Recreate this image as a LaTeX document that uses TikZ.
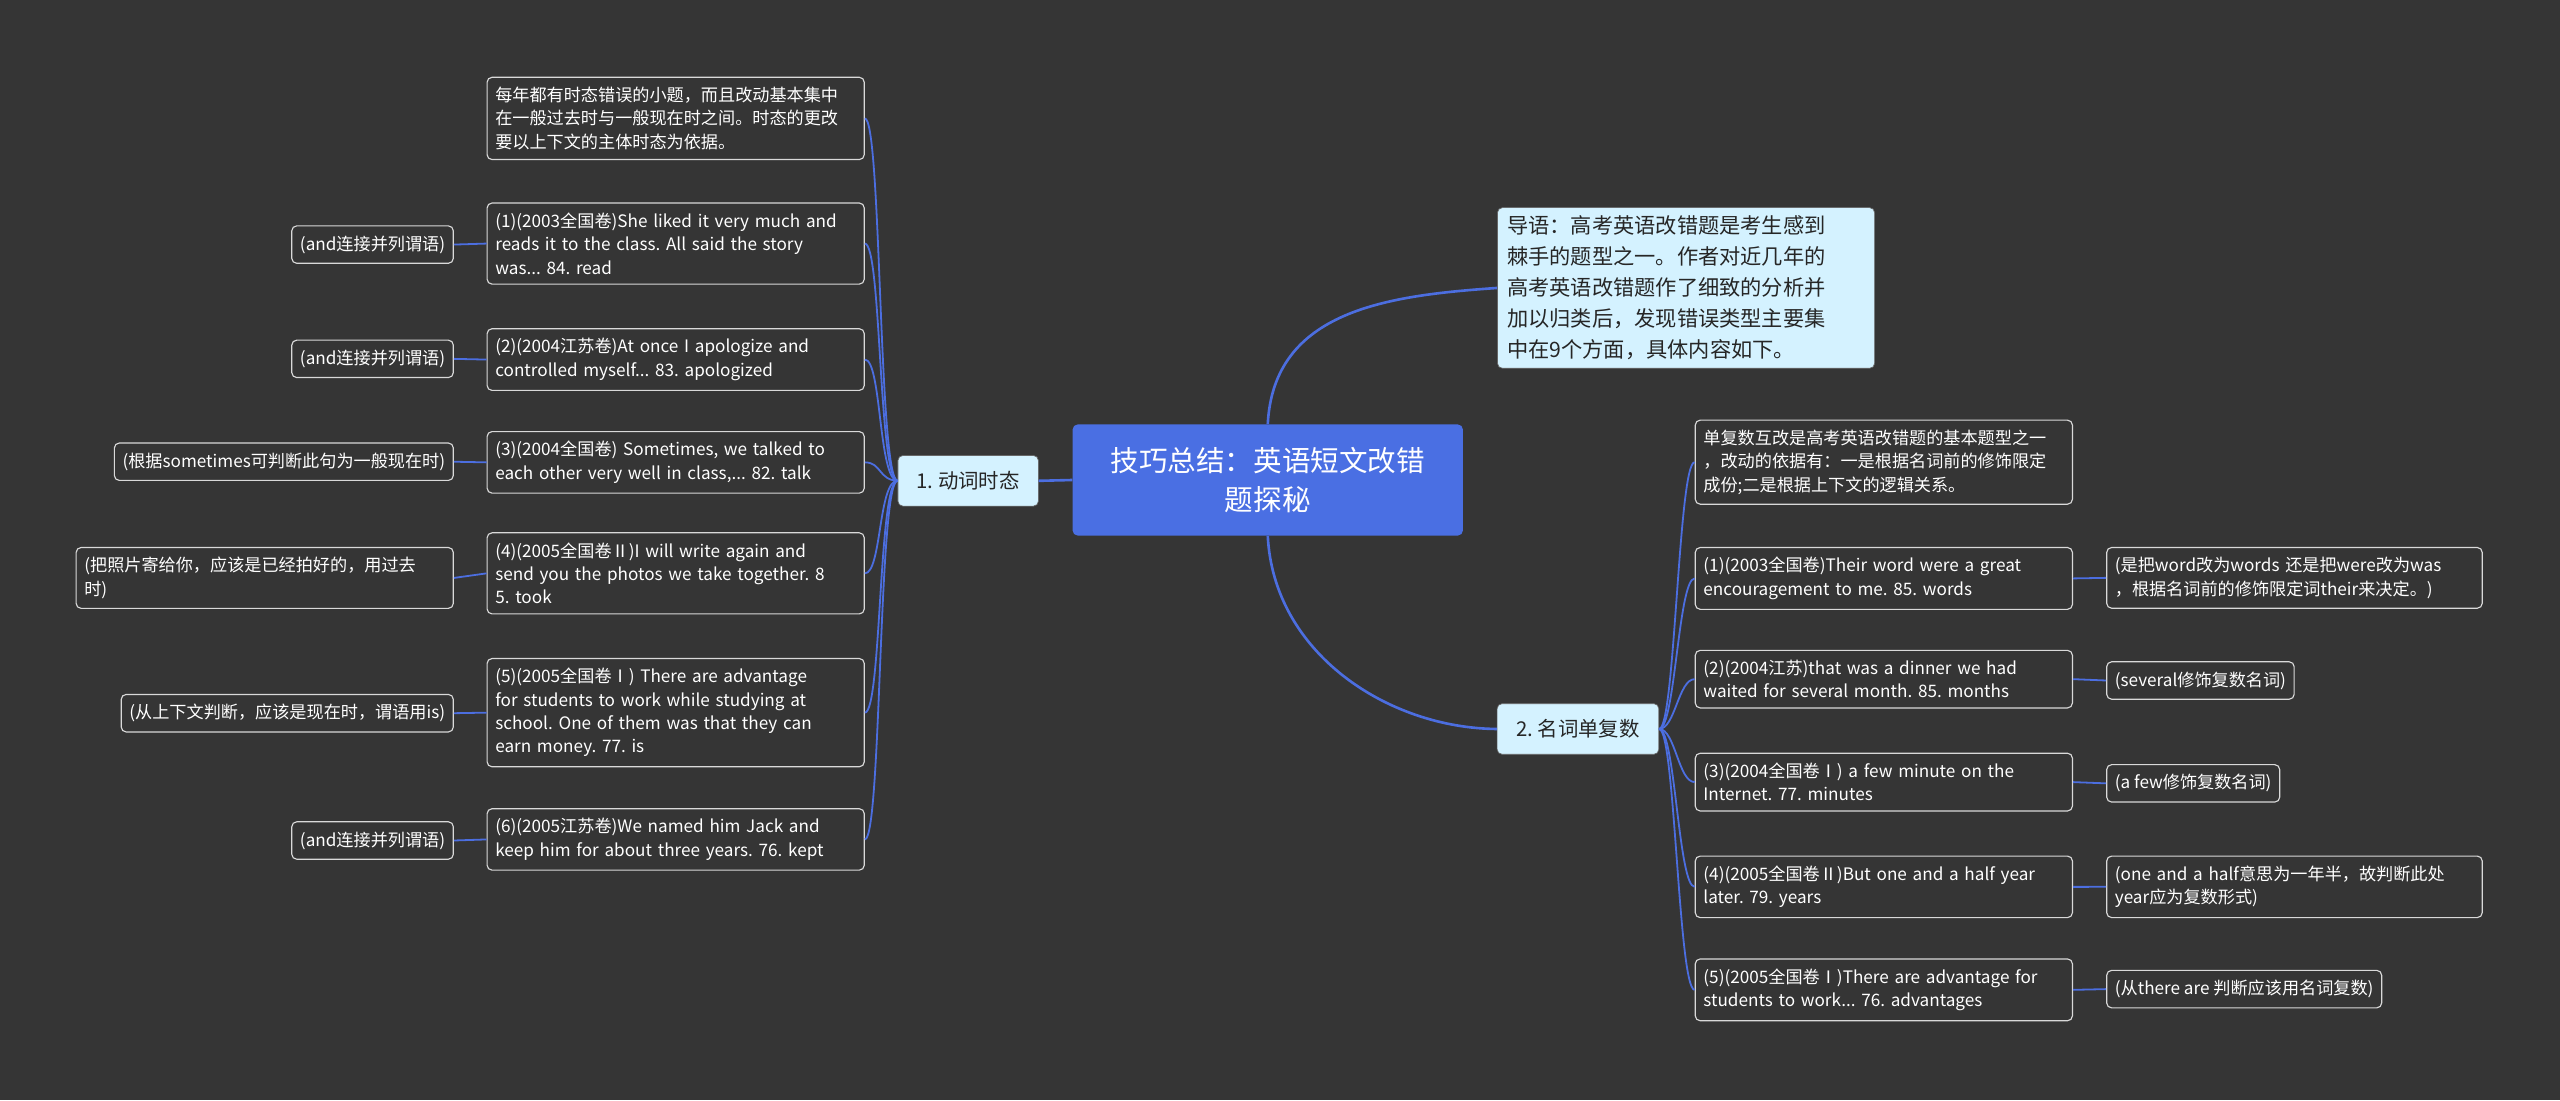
\documentclass[tikz,border=0pt]{standalone}
\usepackage{fontspec}
\setmainfont{Noto Sans CJK SC}
\frenchspacing
\definecolor{bg}{HTML}{353535}
\definecolor{ln}{HTML}{4C6EE0}
\definecolor{rootc}{HTML}{4A6FE3}
\definecolor{lite}{HTML}{D4F2FF}
\begin{document}
\begin{tikzpicture}[x=1pt,y=-1pt,
 leaf/.style={draw=white!85!black,line width=0.7pt,fill=bg,text=white,rounded corners=3pt,anchor=north west,align=left,inner xsep=5pt,inner ysep=6pt,font=\fontsize{10.5}{14.3}\selectfont},
 lit/.style={draw=black!60,fill=lite,text=black!85,rounded corners=3pt,align=left,inner xsep=6pt,inner ysep=5pt},
 con/.style={draw=ln,line width=1.6pt},
 tcon/.style={draw=ln,line width=1.1pt}]
\fill[bg] (0,0) rectangle (1568,674);
\useasboundingbox (0,0) rectangle (1568,674);
\node[fill=rootc,text=white,rounded corners=3pt,minimum width=239pt,minimum height=68pt,align=center,font=\fontsize{17.5}{24}\selectfont] (root) at (776.5,294) {技巧总结：英语短文改错\\题探秘};
\node[lit,anchor=north west,text width=219pt,font=\fontsize{13}{19}\selectfont] (intro) at (917,127) {导语：高考英语改错题是考生感到\\棘手的题型之一。作者对近几年的\\高考英语改错题作了细致的分析并\\加以归类后，发现错误类型主要集\\中在9个方面，具体内容如下。};
\node[lit,minimum width=86pt,minimum height=31pt,font=\fontsize{12.5}{15}\selectfont] (b1) at (593,294.5) {1. 动词时态};
\node[lit,minimum width=99pt,minimum height=31pt,font=\fontsize{12.5}{15}\selectfont] (b2) at (966.5,446.5) {2. 名词单复数};
\draw[con] (root.north) .. controls (780,190) and (850,181) .. (intro.west);
\draw[con] (root.south) .. controls (780,400) and (850,446) .. (b2.west);
\draw[con] (root.west) -- (b1.east);
% left leaves
\node[leaf,text width=221pt] (l0) at (298,47) {每年都有时态错误的小题，而且改动基本集中\\在一般过去时与一般现在时之间。时态的更改\\要以上下文的主体时态为依据。};
\node[leaf,text width=221pt] (l1) at (298,124) {(1)(2003全国卷)She liked it very much and\\ reads it to the class. All said the story\\was... 84. read};
\node[leaf,text width=221pt] (l2) at (298,201) {(2)(2004江苏卷)At once I apologize and\\controlled myself... 83. apologized};
\node[leaf,text width=221pt] (l3) at (298,264) {(3)(2004全国卷) Sometimes, we talked to\\each other very well in class,... 82. talk};
\node[leaf,text width=221pt] (l4) at (298,326) {(4)(2005全国卷Ⅱ)I will write again and\\send you the photos we take together. 8\\5. took};
\node[leaf,text width=221pt] (l5) at (298,403) {(5)(2005全国卷Ⅰ) There are advantage\\for students to work while studying at\\school. One of them was that they can\\earn money. 77. is};
\node[leaf,text width=221pt] (l6) at (298,495) {(6)(2005江苏卷)We named him Jack and\\keep him for about three years. 76. kept};
\foreach \n in {l0,l1,l2,l3,l4,l5,l6}{\draw[tcon] (b1.west) .. controls (538,294) and (540,0|-\n.east) .. (\n.east);}
% left notes
\node[leaf,anchor=north east] (n1) at (278,138) {(and连接并列谓语)};
\node[leaf,anchor=north east] (n2) at (278,208) {(and连接并列谓语)};
\node[leaf,anchor=north east] (n3) at (278,271) {(根据sometimes可判断此句为一般现在时)};
\node[leaf,anchor=north east,text width=221pt] (n4) at (278,335) {(把照片寄给你，应该是已经拍好的，用过去\\时)};
\node[leaf,anchor=north east] (n5) at (278,425) {(从上下文判断，应该是现在时，谓语用is)};
\node[leaf,anchor=north east] (n6) at (278,503) {(and连接并列谓语)};
\foreach \a/\b in {l1/n1,l2/n2,l3/n3,l4/n4,l5/n5,l6/n6}{\draw[tcon] (\a.west) -- (\b.east);}
% right leaves
\node[leaf,text width=221pt] (r0) at (1038,257) {单复数互改是高考英语改错题的基本题型之一\\，改动的依据有：一是根据名词前的修饰限定\\成份;二是根据上下文的逻辑关系。};
\node[leaf,text width=221pt] (r1) at (1038,335) {(1)(2003全国卷)Their word were a great\\encouragement to me. 85. words};
\node[leaf,text width=221pt] (r2) at (1038,398) {(2)(2004江苏)that was a dinner we had\\waited for several month. 85. months};
\node[leaf,text width=221pt] (r3) at (1038,461) {(3)(2004全国卷Ⅰ) a few minute on the\\Internet. 77. minutes};
\node[leaf,text width=221pt] (r4) at (1038,524) {(4)(2005全国卷Ⅱ)But one and a half year\\later. 79. years};
\node[leaf,text width=221pt] (r5) at (1038,587) {(5)(2005全国卷Ⅰ)There are advantage for\\ students to work... 76. advantages};
\foreach \n in {r0,r1,r2,r3,r4,r5}{\draw[tcon] (b2.east) .. controls (1026,446.5) and (1028,0|-\n.west) .. (\n.west);}
\node[leaf,text width=220pt] (m1) at (1290,335) {(是把word改为words 还是把were改为was\\，根据名词前的修饰限定词their来决定。)};
\node[leaf] (m2) at (1290,405) {(several修饰复数名词)};
\node[leaf] (m3) at (1290,468) {(a few修饰复数名词)};
\node[leaf,text width=220pt] (m4) at (1290,524) {(one and a half意思为一年半，故判断此处\\year应为复数形式)};
\node[leaf] (m5) at (1290,594) {(从there are 判断应该用名词复数)};
\foreach \a/\b in {r1/m1,r2/m2,r3/m3,r4/m4,r5/m5}{\draw[tcon] (\a.east) -- (\b.west);}
\end{tikzpicture}
\end{document}
